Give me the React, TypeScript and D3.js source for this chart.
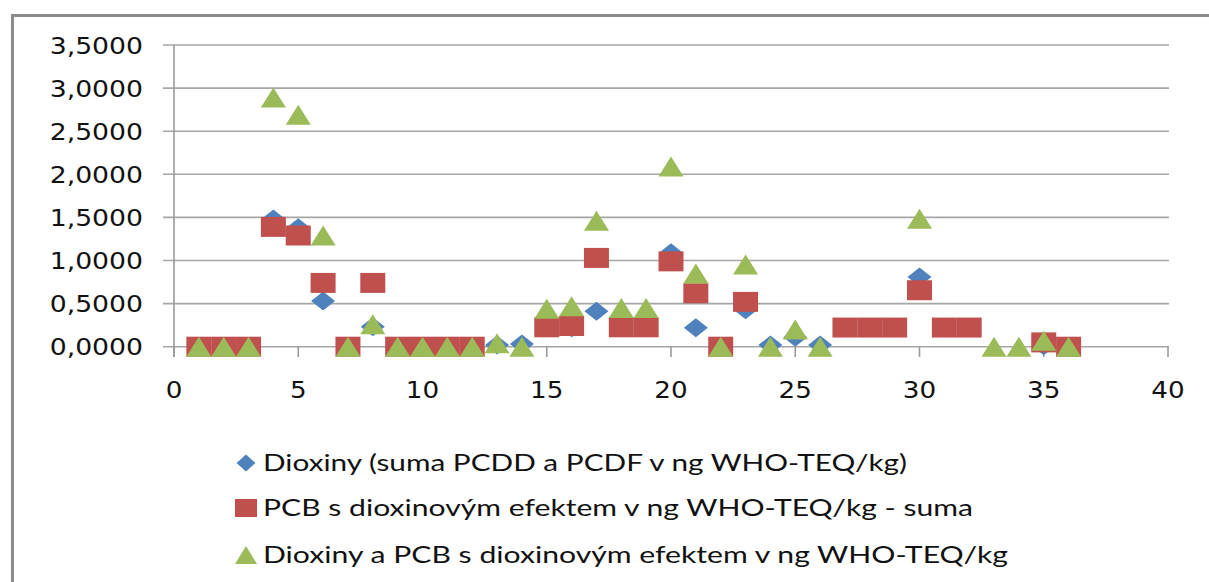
import React from "react";
import * as d3 from "d3";

const xValues = [1,2,3,4,5,6,7,8,9,10,11,12,13,14,15,16,17,18,19,20,21,22,23,24,25,26,27,28,29,30,31,32,33,34,35,36];
const dioxiny: (number|null)[] = [0,0,0,1.48,1.38,0.53,0,0.23,0,0,0,0,0.02,0.03,0.22,0.22,0.41,0.22,0.22,1.09,0.22,0,0.43,0.02,0.11,0.02,null,null,null,0.81,null,null,null,null,0.01,0];
const pcb: (number|null)[] = [0,0,0,1.39,1.29,0.74,0,0.74,0,0,0,0,null,null,0.225,0.24,1.03,0.225,0.225,0.99,0.62,0,0.52,null,null,null,0.222,0.222,0.222,0.655,0.222,0.222,null,null,0.05,0];
const soucet: (number|null)[] = [0,0,0,2.89,2.69,1.29,0,0.26,0,0,0,0,0.04,0,0.44,0.47,1.46,0.45,0.45,2.09,0.85,0,0.955,0,0.2,0,null,null,null,1.485,null,null,0,0,0.07,0];

const yTicks = [0,0.5,1,1.5,2,2.5,3,3.5];
const xTicks = [0,5,10,15,20,25,30,35,40];
const legendLabels = [
  "Dioxiny (suma PCDD a PCDF v ng WHO-TEQ/kg)",
  "PCB s dioxinovým efektem v ng WHO-TEQ/kg - suma",
  "Dioxiny a PCB s dioxinovým efektem v ng WHO-TEQ/kg",
];
const colors = ["#4F81BD", "#C0504D", "#9BBB59"];

const xScale = d3.scaleLinear().domain([0, 40]).range([174, 1168]);
const yScale = d3.scaleLinear().domain([0, 3.5]).range([346.7, 45]);
const fmt = (v: number) => d3.format(".4f")(v).replace(".", ",");

function markerPath(kind: number, w: number, h: number) {
  const p = d3.path();
  if (kind === 0) {
    p.moveTo(0, -h / 2); p.lineTo(w / 2, 0); p.lineTo(0, h / 2); p.lineTo(-w / 2, 0); p.closePath();
  } else if (kind === 1) {
    p.rect(-w / 2, -h / 2, w, h);
  } else {
    p.moveTo(0, -h / 2); p.lineTo(w / 2, h / 2); p.lineTo(-w / 2, h / 2); p.closePath();
  }
  return p.toString();
}

const series = [dioxiny, pcb, soucet];
const sizes = [[24, 19], [25, 20], [25, 20]];
const legendWidths = [644, 710, 745];
const legendY = [463, 508, 555];

export default function App() {
  return (
    <svg width={1209} height={582} style={{ position: "absolute", left: 0, top: 0, background: "#fff" }}>
      <rect x={12.5} y={15.5} width={1210} height={580} fill="#fff" stroke="#8C8C8C" strokeWidth={3} />
      {yTicks.map((t) => (
        <g key={"g" + t}>
          <line x1={163} x2={1169} y1={yScale(t)} y2={yScale(t)} stroke="#A6A6A6" strokeWidth={1.6} />
          <text transform={`translate(143,${yScale(t) + 8.5}) scale(1.16,1)`} textAnchor="end" fontFamily="DejaVu Sans" fontSize={23} fill="#111">{fmt(t)}</text>
        </g>
      ))}
      <line x1={174} x2={174} y1={45} y2={357} stroke="#9A9A9A" strokeWidth={1.6} />
      {xTicks.map((t) => (
        <g key={"x" + t}>
          <line x1={xScale(t)} x2={xScale(t)} y1={346.7} y2={357} stroke="#9A9A9A" strokeWidth={1.6} />
          <text transform={`translate(${xScale(t)},398) scale(1.14,1)`} textAnchor="middle" fontFamily="DejaVu Sans" fontSize={23} fill="#111">{t}</text>
        </g>
      ))}
      {series.map((s, si) => (
        <g key={"s" + si}>
          {s.map((v, i) => v === null ? null : (
            <path key={i} d={markerPath(si, sizes[si][0], sizes[si][1])} transform={`translate(${xScale(xValues[i])},${yScale(v)})`} fill={colors[si]} />
          ))}
        </g>
      ))}
      {legendLabels.map((l, i) => (
        <g key={"l" + i}>
          <path d={markerPath(i, i === 0 ? 19 : 22, i === 0 ? 17 : 18)} transform={`translate(246,${legendY[i]})`} fill={colors[i]} />
          <text x={263} y={legendY[i] + 8} fontFamily="Lato" fontSize={23} fill="#111" textLength={legendWidths[i]} lengthAdjust="spacingAndGlyphs">{l}</text>
        </g>
      ))}
    </svg>
  );
}
